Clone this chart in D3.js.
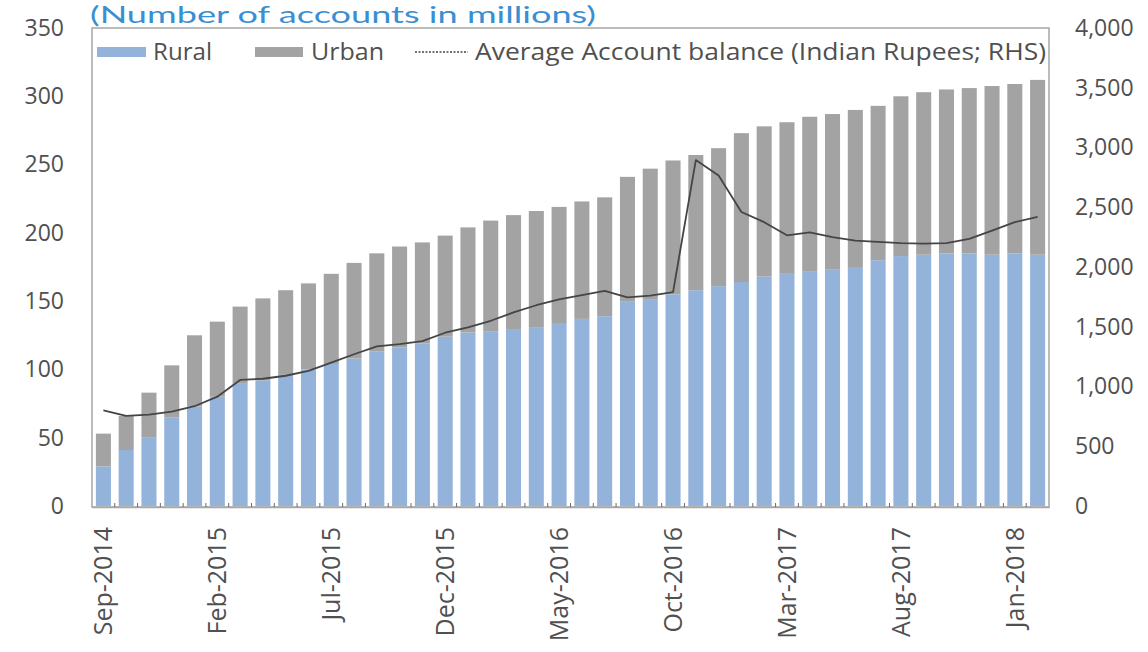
<!DOCTYPE html>
<html>
<head>
<meta charset="utf-8">
<script src="https://cdn.jsdelivr.net/npm/d3@7/dist/d3.min.js"></script>
<style>
  html, body { margin: 0; padding: 0; background: #ffffff; }
  svg { display: block; font-family: "Open Sans", "DejaVu Sans", sans-serif; }
</style>
</head>
<body>
<svg id="chart" width="1148" height="652"></svg>
<script>
// Monthly categories, Sep-2014 to Feb-2018
const months = [
  "Sep-2014","Oct-2014","Nov-2014","Dec-2014",
  "Jan-2015","Feb-2015","Mar-2015","Apr-2015","May-2015","Jun-2015",
  "Jul-2015","Aug-2015","Sep-2015","Oct-2015","Nov-2015","Dec-2015",
  "Jan-2016","Feb-2016","Mar-2016","Apr-2016","May-2016","Jun-2016",
  "Jul-2016","Aug-2016","Sep-2016","Oct-2016","Nov-2016","Dec-2016",
  "Jan-2017","Feb-2017","Mar-2017","Apr-2017","May-2017","Jun-2017",
  "Jul-2017","Aug-2017","Sep-2017","Oct-2017","Nov-2017","Dec-2017",
  "Jan-2018","Feb-2018"
];

// Labelled months on the x axis
const xTickLabels = ["Sep-2014","Feb-2015","Jul-2015","Dec-2015","May-2016",
                     "Oct-2016","Mar-2017","Aug-2017","Jan-2018"];

// Number of accounts, millions
const rural = [29,41,50,65,73,80,90,92,96,100,104,108,113,116,119,124,127,128,129,131,
               134,137,139,150,151,155,158,161,164,168,170,172,173,175,180,183,184,185,
               185,184,185,184];
const urban = [24,25,33,38,52,55,56,60,62,63,66,70,72,74,74,74,77,81,84,85,
               85,86,87,91,96,98,99,101,109,110,111,113,114,115,113,117,119,120,
               121,123.5,124,128];

// Average account balance, Indian Rupees (right-hand scale)
const balance = [800,755,765,790,835,915,1055,1065,1090,1130,1200,1270,1335,1355,1380,
                 1450,1495,1550,1620,1680,1730,1765,1800,1745,1760,1790,2895,2765,2460,
                 2375,2265,2290,2250,2220,2210,2200,2195,2200,2235,2305,2375,2420];

const leftTicks = [0,50,100,150,200,250,300,350];
const rightTicks = [0,500,1000,1500,2000,2500,3000,3500,4000];

const titleText = "(Number of accounts in millions)";
const seriesNames = ["Rural", "Urban", "Average Account balance (Indian Rupees; RHS)"];

const colors = { rural: "#93b3da", urban: "#a3a3a3", line: "#454545", axis: "#a6a6a6", text: "#505050", title: "#3a8fd3" };

const svg = d3.select("#chart");
const plot = { left: 92, right: 1049, top: 28, bottom: 507 };

const x = d3.scaleBand().domain(months).range([plot.left, plot.right])
  .paddingInner(0.34).paddingOuter(0.17);
const yL = d3.scaleLinear().domain([0, 350]).range([506, 28]);
const yR = d3.scaleLinear().domain([0, 4000]).range([506, 28]);

const rows = months.map((m, i) => ({ month: m, Rural: rural[i], Urban: urban[i] }));
const stack = d3.stack().keys(["Rural", "Urban"])(rows);

// Stacked bars
svg.append("g").selectAll("g").data(stack).join("g")
  .attr("fill", d => d.key === "Rural" ? colors.rural : colors.urban)
  .selectAll("rect").data(d => d).join("rect")
  .attr("x", d => x(d.data.month))
  .attr("width", x.bandwidth())
  .attr("y", d => yL(d[1]))
  .attr("height", d => yL(d[0]) - yL(d[1]));

// Average balance line
const line = d3.line()
  .x((d, i) => x(months[i]) + x.bandwidth() / 2)
  .y(d => yR(d));
svg.append("path").datum(balance)
  .attr("d", line)
  .attr("fill", "none")
  .attr("stroke", colors.line)
  .attr("stroke-width", 1.8)
  .attr("stroke-linejoin", "round");

// Plot frame
svg.append("rect")
  .attr("x", plot.left).attr("y", plot.top)
  .attr("width", plot.right - plot.left).attr("height", plot.bottom - plot.top)
  .attr("fill", "none").attr("stroke", colors.axis).attr("stroke-width", 1.5);

// Bottom axis with small category ticks
const xAxis = d3.axisBottom(x)
  .tickValues(xTickLabels)
  .tickSize(0)
  .tickPadding(0);
const gx = svg.append("g").attr("transform", `translate(0,${plot.bottom})`).call(xAxis);
gx.select(".domain").attr("stroke", colors.axis).attr("stroke-width", 1.5);
gx.selectAll("text")
  .attr("transform", "rotate(-90)")
  .attr("text-anchor", "end")
  .attr("x", -20)
  .attr("y", 0)
  .attr("dy", "0.35em")
  .attr("fill", colors.text)
  .attr("font-size", 25)
  .attr("font-family", "'Open Sans', sans-serif");

svg.append("g").selectAll("line").data(months.slice(1)).join("line")
  .attr("x1", d => x(d) - x.step() * x.paddingInner() / 2)
  .attr("x2", d => x(d) - x.step() * x.paddingInner() / 2)
  .attr("y1", plot.bottom).attr("y2", plot.bottom - 4)
  .attr("stroke", "#6a6a6a").attr("stroke-width", 1);

// Left axis
const gl = svg.append("g").attr("transform", "translate(64,0)")
  .call(d3.axisLeft(yL).tickValues(leftTicks).tickSize(0).tickPadding(0));
gl.select(".domain").remove();
gl.selectAll("text").attr("fill", colors.text).attr("font-size", 23)
  .attr("font-family", "'Open Sans', sans-serif");

// Right axis
const gr = svg.append("g").attr("transform", "translate(1075,0)")
  .call(d3.axisRight(yR).tickValues(rightTicks).tickSize(0).tickPadding(0)
    .tickFormat(d3.format(",")));
gr.select(".domain").remove();
gr.selectAll("text").attr("fill", colors.text).attr("font-size", 23)
  .attr("font-family", "'Open Sans', sans-serif");

// Unit note above the plot
svg.append("text")
  .attr("x", 90).attr("y", 23)
  .attr("fill", colors.title)
  .attr("font-family", "Lato, 'Open Sans', sans-serif")
  .attr("font-size", 23)
  .attr("textLength", 506).attr("lengthAdjust", "spacingAndGlyphs")
  .text(titleText);

// Legend
const lg = svg.append("g").attr("font-size", 23).attr("fill", colors.text);
lg.append("rect").attr("x", 97).attr("y", 47).attr("width", 49).attr("height", 10).attr("fill", colors.rural);
lg.append("text").attr("x", 153).attr("y", 60).attr("textLength", 59)
  .attr("lengthAdjust", "spacingAndGlyphs").text(seriesNames[0]);
lg.append("rect").attr("x", 255).attr("y", 47).attr("width", 48).attr("height", 10).attr("fill", colors.urban);
lg.append("text").attr("x", 311).attr("y", 60).attr("textLength", 73)
  .attr("lengthAdjust", "spacingAndGlyphs").text(seriesNames[1]);
lg.append("line").attr("x1", 415).attr("x2", 468).attr("y1", 52).attr("y2", 52)
  .attr("stroke", colors.line).attr("stroke-width", 1.5).attr("stroke-dasharray", "2,1.5");
lg.append("text").attr("x", 475).attr("y", 60).attr("textLength", 571)
  .attr("lengthAdjust", "spacingAndGlyphs").text(seriesNames[2]);
</script>
</body>
</html>
